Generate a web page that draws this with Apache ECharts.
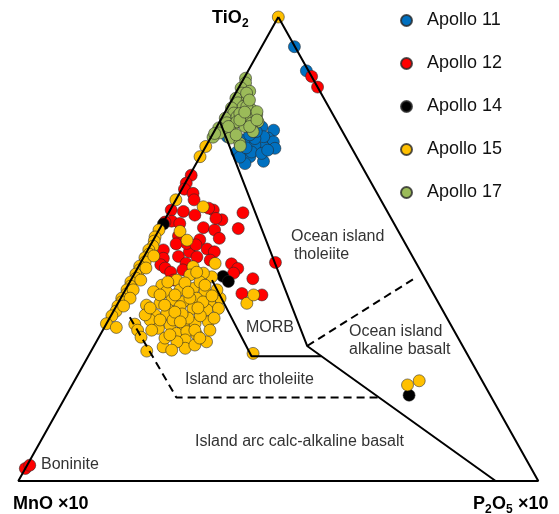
<!DOCTYPE html>
<html>
<head>
<meta charset="utf-8">
<script src="https://cdn.jsdelivr.net/npm/echarts@6/dist/echarts.min.js"></script>
<style>
  html, body { margin: 0; padding: 0; background: #fff; }
  #chart { width: 559px; height: 514px; }
</style>
</head>
<body>
<div id="chart"></div>
<script>
// every point is [TiO2, P2O5x10] in %, MnOx10 is what is left to 100
const apollo11 = [[93.6,6.3],[88.4,11.2],[74.2,3.1],[73.5,6.5],[72.7,8.2],[76.3,8.7],[75.6,11.3],[73.9,11.1],[73.1,12.5],
  [71.7,13.5],[72.0,11.2],[72.4,9.3],[71.3,7.6],[69.9,9.6],[68.4,9.4],[68.9,12.7],[70.9,9.4],[70.6,11.5],[70.9,6.6],
  [69.8,7.7],[74.2,10.1],[73.8,8.6],[71.8,7.9],[75.3,8.1],[71.3,12.3],[74.6,7.2]];

const apollo12 = [[87.2,12.8],[84.9,15.1],[47.1,25.9],[2.7,0],[3.4,0.5],[65.9,0.3],[64.2,0.2],[62.9,0.5],[62.0,2.6],
  [58.4,0.2],[58.1,2.7],[57.3,5.3],[58.4,8.3],[56.3,11.0],[57.8,14.3],[54.4,15.1],[56.0,1.5],[55.5,3.3],[52.8,4.4],
  [54.6,8.3],[54.1,10.7],[52.3,12.5],[52.0,8.9],[50.0,11.3],[49.4,13.0],[49.8,3.0],[48.0,3.9],[46.6,4.1],[48.4,6.6],
  [49.4,8.2],[46.9,8.8],[45.9,5.3],[45.0,6.8],[46.8,17.6],[45.8,19.3],[43.6,23.3],[40.4,22.8],[40.1,26.8],[51.2,6.8],
  [47.6,13.1],[48.3,10.2],[43.3,8.2],[55.8,0.3],[58.8,7.2],[56.6,9.7],[60.6,3.5],[51.1,4.8],[50.9,8.7],[45.5,8.9],
  [44.8,19.0]];

const apollo14 = [[44.1,17.3],[43.0,18.9],[18.5,65.9],[55.4,0.2]];

const apollo15 = [[100,0],[72.1,0],[69.9,0],[60.6,0],[59.1,6.0],[54.1,0],[53.8,4.2],[51.9,6.5],[52.6,0],
  [51.7,0.3],[50.6,0.6],[49.8,0.2],[48.9,0.7],[48.1,0.3],[47.2,0.8],[46.3,0.2],[45.5,0.6],[44.6,0.3],[43.7,0.8],
  [42.9,0.2],[42.0,0.6],[41.2,0.3],[40.3,0.7],[39.4,0.2],[38.6,0.6],[37.7,0.3],[36.6,0.5],[35.6,0.2],
  [48.5,1.8],[45.9,1.6],[43.3,1.9],[41.2,1.5],[39.4,1.8],[37.7,1.4],
  [33.9,0],[33.1,2.3],[33.8,5.5],[32.5,6.7],[31.0,8.1],[28.0,10.7],
  [46.2,10.5],[46.9,14.4],[44.0,15.2],[44.8,13.2],[44.4,10.8],[43.3,8.8],[42.2,6.5],[40.8,5.6],[40.8,8.1],[41.2,10.5],
  [41.5,12.9],[40.8,15.5],[39.4,19.1],[37.9,5.7],[38.3,8.1],[39.0,10.0],[38.6,12.4],[39.4,14.6],[38.6,17.5],[35.8,8.4],
  [36.9,10.4],[37.6,12.3],[37.2,15.0],[36.9,17.8],[37.2,19.9],[32.9,10.5],[33.6,12.4],[33.3,15.1],[34.0,17.0],[34.3,19.4],
  [31.8,14.5],[32.2,16.3],[31.5,18.6],[30.0,21.2],[30.4,16.9],[28.6,17.8],[28.9,13.4],[34.7,8.0],[36.1,10.5],[29.3,19.3],
  [42.9,13.5],[38.3,24.8],[40.1,25.2],[35.1,20.1],[27.5,31.4],[20.7,64.5],[21.6,66.3],
  [42.7,10.7],[35.6,17.2],[34.7,12.4],[35.1,15.1],[40.1,7.2],[40.1,10.1],[39.4,13.3],[38.6,16.2],[30.8,12.8],[30.0,15.5],
  [32.5,17.7],[32.5,9.4],[34.7,9.9],[35.8,6.5],[32.5,20.6],[36.0,13.5],[42.9,7.3],[42.2,14.8],[45.0,11.8],[41.2,17.6],
  [37.9,9.2],[40.7,12.3],[36.4,11.9],[37.3,15.9],[31.5,13.4],[30.8,19.5],[34.3,14.0],[39.9,17.3],[37.3,6.7],[28.2,15.4]];

const apollo17 = [[86.8,0.3],[85.8,0.8],[84.7,0.5],[83.6,1.2],[82.5,0.6],[81.5,1.5],[80.4,0.8],[79.3,1.8],[78.2,0.7],
  [77.2,1.5],[76.1,0.5],[75.0,1.2],[74.1,0.4],[84.0,2.5],[82.0,3.0],[80.0,3.2],[78.5,2.8],[76.5,3.0],
  [83.6,2.1],[81.7,3.4],[80.7,2.9],[80.0,4.9],[79.2,3.0],[78.2,5.1],[78.9,6.4],[77.4,3.3],[76.4,5.4],[77.4,7.4],
  [75.6,2.9],[77.8,3.7],[76.0,6.9],[73.9,3.8],[72.8,6.2],[72.2,6.6],[77.1,6.3],[80.7,3.6],[75.3,7.5],[82.1,3.4],
  [79.6,6.1],[76.4,6.3],[76.4,2.2],[74.9,0.3],[77.8,7.0],[74.6,4.6],[79.5,3.8]];

// field boundaries, same [TiO2, P2O5x10] form
const triangleEdge = [[100,0],[0,0],[0,100],[100,0]];
const oitBoundary = [[77.5,0],[29.1,41.0],[0,91.8]];
const morbBoundary = [[43.3,15.6],[26.9,31.4],[26.9,44.8]];
const oiaBoundary = [[29.1,41.0],[43.5,54.2]];
const iatBoundary = [[35.3,3.8],[18.0,21.4],[18.0,60.4]];

const seriesNames = ['Apollo 11', 'Apollo 12', 'Apollo 14', 'Apollo 15', 'Apollo 17'];
const seriesColors = ['#0070C0', '#FF0000', '#000000', '#FFC000', '#9BBB59'];
const seriesData = [apollo11, apollo12, apollo14, apollo15, apollo17];

const FONT = '"Liberation Sans", Arial, sans-serif';

// ternary -> plane, TiO2 on top
function toXY(p) {
    return [p[1] + p[0] / 2, p[0]];
}

function lineSeries(pts, dashed) {
    return {
        type: 'line',
        data: pts.map(toXY),
        symbol: 'none',
        silent: true,
        animation: false,
        lineStyle: {color: '#000', width: 2, type: dashed ? [8, 5] : 'solid'}
    };
}

function txt(x, y, s, size, bold, color) {
    return {
        type: 'text',
        x: x,
        y: y,
        silent: true,
        style: {
            text: s,
            font: (bold ? 'bold ' : '') + size + 'px ' + FONT,
            fill: color || '#333',
            verticalAlign: 'middle',
            align: 'left'
        }
    };
}

let chart = echarts.init(document.getElementById('chart'));

let series = [
    lineSeries(triangleEdge, false),
    lineSeries(oitBoundary, false),
    lineSeries(morbBoundary, false),
    lineSeries(oiaBoundary, true),
    lineSeries(iatBoundary, true)
];
for (let i = 0; i < seriesNames.length; i++) {
    series.push({
        name: seriesNames[i],
        type: 'scatter',
        symbol: 'circle',
        symbolSize: 12,
        clip: false,
        data: seriesData[i].map(toXY),
        itemStyle: {
            color: seriesColors[i],
            borderColor: 'rgba(40,40,40,0.8)',
            borderWidth: 0.7,
            opacity: 1
        }
    });
}

chart.setOption({
    animation: false,
    backgroundColor: '#fff',
    grid: {left: 18.3, right: 20.7, top: 17, bottom: 33},
    xAxis: {type: 'value', min: 0, max: 100, show: false},
    yAxis: {type: 'value', min: 0, max: 100, show: false},
    legend: {
        data: seriesNames,
        orient: 'vertical',
        left: 400,
        top: 10.5,
        padding: 0,
        itemWidth: 11,
        itemHeight: 11,
        itemGap: 23,
        icon: 'circle',
        textStyle: {fontSize: 18, fontFamily: FONT, color: '#111', lineHeight: 20, padding: [0, 0, 0, 10]}
    },
    graphic: [
        txt(212, 18, 'TiO', 18, true, '#000'),
        txt(242, 24, '2', 12, true, '#000'),
        txt(13, 504, 'MnO \u00d710', 18, true, '#000'),
        txt(473, 504, 'P', 18, true, '#000'),
        txt(485, 510, '2', 12, true, '#000'),
        txt(492, 504, 'O', 18, true, '#000'),
        txt(506, 510, '5', 12, true, '#000'),
        txt(513, 504, ' \u00d710', 18, true, '#000'),
        txt(291, 237, 'Ocean island', 16),
        txt(294, 255, 'tholeiite', 16),
        txt(246, 328, 'MORB', 16),
        txt(349, 332, 'Ocean island', 16),
        txt(349, 350, 'alkaline basalt', 16),
        txt(185, 380, 'Island arc tholeiite', 16),
        txt(195, 442, 'Island arc calc-alkaline basalt', 16),
        txt(41, 465, 'Boninite', 16)
    ],
    series: series
});
</script>
</body>
</html>
